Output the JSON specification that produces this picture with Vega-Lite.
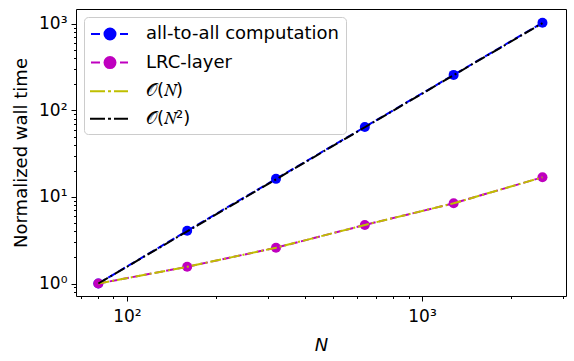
{
  "$schema": "https://vega.github.io/schema/vega-lite/v6.json",
  "width": 490,
  "height": 287,
  "autosize": "none",
  "padding": {"left": 76, "top": 9, "right": 8, "bottom": 65},
  "background": "white",
  "config": {
    "font": "DejaVu Sans",
    "view": {"stroke": "black", "strokeWidth": 1},
    "axis": {
      "domain": false, "grid": false,
      "labelFont": "DejaVu Sans", "labelFontSize": 17, "labelColor": "black",
      "tickColor": "black", "tickWidth": 1,
      "titleFont": "DejaVu Sans", "titleFontSize": 18, "titleFontWeight": "normal", "titleColor": "black",
      "labelOverlap": false, "labelFlush": false, "labelBound": false
    },
    "legend": {
      "orient": "top-left", "offset": 8, "title": null,
      "fillColor": "white", "strokeColor": "#cccccc", "cornerRadius": 4, "padding": 6,
      "labelFont": "DejaVu Sans", "labelFontSize": 18, "labelColor": "black", "labelLimit": 400,
      "symbolSize": 400, "symbolStrokeWidth": 2, "rowPadding": 7.6, "labelOffset": 34, "symbolOpacity": 1
    }
  },
  "data": {
    "values": [
      {"N": 80, "t": 1, "series": "all-to-all computation"},
      {"N": 160, "t": 4.07, "series": "all-to-all computation"},
      {"N": 320, "t": 16.2, "series": "all-to-all computation"},
      {"N": 640, "t": 64.5, "series": "all-to-all computation"},
      {"N": 1280, "t": 258, "series": "all-to-all computation"},
      {"N": 2560, "t": 1035, "series": "all-to-all computation"},
      {"N": 80, "t": 1, "series": "LRC-layer"},
      {"N": 160, "t": 1.56, "series": "LRC-layer"},
      {"N": 320, "t": 2.59, "series": "LRC-layer"},
      {"N": 640, "t": 4.75, "series": "LRC-layer"},
      {"N": 1280, "t": 8.45, "series": "LRC-layer"},
      {"N": 2560, "t": 16.9, "series": "LRC-layer"},
      {"N": 80, "t": 1, "series": "𝒪(𝑁)"},
      {"N": 160, "t": 1.56, "series": "𝒪(𝑁)"},
      {"N": 320, "t": 2.59, "series": "𝒪(𝑁)"},
      {"N": 640, "t": 4.75, "series": "𝒪(𝑁)"},
      {"N": 1280, "t": 8.45, "series": "𝒪(𝑁)"},
      {"N": 2560, "t": 16.9, "series": "𝒪(𝑁)"},
      {"N": 80, "t": 1, "series": "𝒪(𝑁²)"},
      {"N": 160, "t": 4, "series": "𝒪(𝑁²)"},
      {"N": 320, "t": 16, "series": "𝒪(𝑁²)"},
      {"N": 640, "t": 64, "series": "𝒪(𝑁²)"},
      {"N": 1280, "t": 256, "series": "𝒪(𝑁²)"},
      {"N": 2560, "t": 1024, "series": "𝒪(𝑁²)"}
    ]
  },
  "encoding": {
    "x": {
      "field": "N", "type": "quantitative", "title": "N",
      "scale": {"type": "log", "domain": [67.2, 3076], "nice": false, "zero": false},
      "axis": {
        "values": [70, 80, 90, 100, 200, 300, 400, 500, 600, 700, 800, 900, 1000, 2000, 3000],
        "labelExpr": "datum.value == 100 ? '10²' : datum.value == 1000 ? '10³' : ''",
        "tickSize": {"condition": {"test": "datum.value == 100 || datum.value == 1000", "value": 5}, "value": 2.5},
        "labelPadding": 7, "titlePadding": 12, "titleFontStyle": "italic"
      }
    },
    "y": {
      "field": "t", "type": "quantitative", "title": "Normalized wall time",
      "scale": {"type": "log", "domain": [0.717, 1490], "nice": false, "zero": false},
      "axis": {
        "values": [0.8, 0.9, 1, 2, 3, 4, 5, 6, 7, 8, 9, 10, 20, 30, 40, 50, 60, 70, 80, 90, 100, 200, 300, 400, 500, 600, 700, 800, 900, 1000],
        "labelExpr": "datum.value == 1 ? '10⁰' : datum.value == 10 ? '10¹' : datum.value == 100 ? '10²' : datum.value == 1000 ? '10³' : ''",
        "tickSize": {"condition": {"test": "datum.value == 1 || datum.value == 10 || datum.value == 100 || datum.value == 1000", "value": 5}, "value": 2.5},
        "labelPadding": 4, "titlePadding": 8
      }
    },
    "color": {
      "field": "series", "type": "nominal",
      "scale": {
        "domain": ["all-to-all computation", "LRC-layer", "𝒪(𝑁)", "𝒪(𝑁²)"],
        "range": ["#0000ff", "#bf00bf", "#bfbf00", "#000000"]
      }
    }
  },
  "layer": [
    {
      "transform": [{"filter": "false"}],
      "mark": {"type": "point", "filled": true, "size": 400, "opacity": 1, "strokeWidth": 2},
      "encoding": {
        "shape": {
          "field": "series", "type": "nominal",
          "scale": {
            "domain": ["all-to-all computation", "LRC-layer", "𝒪(𝑁)", "𝒪(𝑁²)"],
            "range": [
              "M-1,0H-0.1M1.9,0H2.7M0.35,0A0.55,0.55 0 1 1 1.45,0A0.55,0.55 0 1 1 0.35,0Z",
              "M-1,0H-0.1M1.9,0H2.7M0.35,0A0.55,0.55 0 1 1 1.45,0A0.55,0.55 0 1 1 0.35,0Z",
              "M-1.1,0H0.4M0.7,0H1M1.3,0H2.7",
              "M-1.1,0H0.4M0.7,0H1M1.3,0H2.7"
            ]
          }
        },
        "stroke": {
          "field": "series", "type": "nominal",
          "scale": {
            "domain": ["all-to-all computation", "LRC-layer", "𝒪(𝑁)", "𝒪(𝑁²)"],
            "range": ["#0000ff", "#bf00bf", "#bfbf00", "#000000"]
          }
        }
      }
    },
    {
      "transform": [{"filter": "datum.series == 'all-to-all computation'"}],
      "mark": {"type": "line", "strokeWidth": 2, "strokeDash": [8, 3.5]}
    },
    {
      "transform": [{"filter": "datum.series == 'all-to-all computation'"}],
      "mark": {"type": "point", "filled": true, "size": 100, "opacity": 1}
    },
    {
      "transform": [{"filter": "datum.series == 'LRC-layer'"}],
      "mark": {"type": "line", "strokeWidth": 2, "strokeDash": [8, 3.5]}
    },
    {
      "transform": [{"filter": "datum.series == 'LRC-layer'"}],
      "mark": {"type": "point", "filled": true, "size": 100, "opacity": 1}
    },
    {
      "transform": [{"filter": "datum.series == '𝒪(𝑁)'"}],
      "mark": {"type": "line", "strokeWidth": 2, "strokeDash": [11, 3, 2, 3]}
    },
    {
      "transform": [{"filter": "datum.series == '𝒪(𝑁²)'"}],
      "mark": {"type": "line", "strokeWidth": 2, "strokeDash": [11, 3, 2, 3]}
    }
  ]
}
